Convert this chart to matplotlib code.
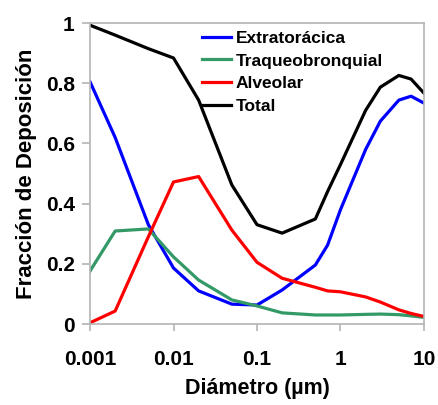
import matplotlib.pyplot as plt

plt.rcParams['font.family'] = ['Liberation Sans', 'DejaVu Sans']
plt.rcParams['font.weight'] = 'bold'

# particle diameter (um)
diametro = [0.001, 0.002, 0.005, 0.01, 0.02, 0.05, 0.1, 0.2, 0.5, 0.7, 1, 2, 3, 5, 7, 10]

extratoracica = [0.805, 0.62, 0.33, 0.186, 0.11, 0.066, 0.063, 0.113, 0.196, 0.262, 0.38, 0.58, 0.674, 0.744, 0.757, 0.734]
traqueobronquial = [0.176, 0.309, 0.316, 0.223, 0.146, 0.08, 0.06, 0.037, 0.03, 0.03, 0.03, 0.032, 0.033, 0.031, 0.027, 0.022]
alveolar = [0.004, 0.043, 0.29, 0.472, 0.49, 0.312, 0.205, 0.152, 0.122, 0.11, 0.107, 0.09, 0.073, 0.047, 0.035, 0.025]
total = [0.993, 0.96, 0.915, 0.884, 0.744, 0.462, 0.33, 0.302, 0.349, 0.44, 0.53, 0.71, 0.787, 0.826, 0.814, 0.767]

series = [
    ("Extratorácica", extratoracica, "#0000ff"),
    ("Traqueobronquial", traqueobronquial, "#339966"),
    ("Alveolar", alveolar, "#ff0000"),
    ("Total", total, "#000000"),
]

fig = plt.figure(figsize=(4.38, 4.05), dpi=100)
ax = fig.add_axes([0.2055, 0.2, 0.7625, 0.743])

for name, vals, col in series:
    ax.plot(diametro, vals, color=col, lw=2.3, label=name)

ax.set_xscale('log')
ax.set_xlim(0.001, 10)
ax.set_ylim(0, 1)
ax.set_xticks([0.001, 0.01, 0.1, 1, 10])
ax.set_xticklabels(["0.001", "0.01", "0.1", "1", "10"])
ax.set_xticks([], minor=True)
ax.set_yticks([0, 0.2, 0.4, 0.6, 0.8, 1])
ax.set_yticklabels(["0", "0.2", "0.4", "0.6", "0.8", "1"])

for s in ax.spines.values():
    s.set_color('#b4b4b4')
    s.set_linewidth(1.2)
ax.tick_params(axis='both', colors='#b4b4b4', labelcolor='black', labelsize=15, width=1.2)
ax.tick_params(axis='x', length=5, pad=14)
ax.tick_params(axis='y', length=6, pad=5)

ax.set_xlabel("Diámetro (µm)", fontsize=15.5, fontweight='bold', labelpad=6)
ax.set_ylabel("Fracción de Deposición", fontsize=16, fontweight='bold', labelpad=6)

ax.legend(loc='upper left', bbox_to_anchor=(0.335, 0.975), frameon=False,
          fontsize=12.5, handlelength=1.7, handletextpad=0.25, labelspacing=0.44,
          borderpad=0, borderaxespad=0)

fig.savefig('out.png', dpi=100)
